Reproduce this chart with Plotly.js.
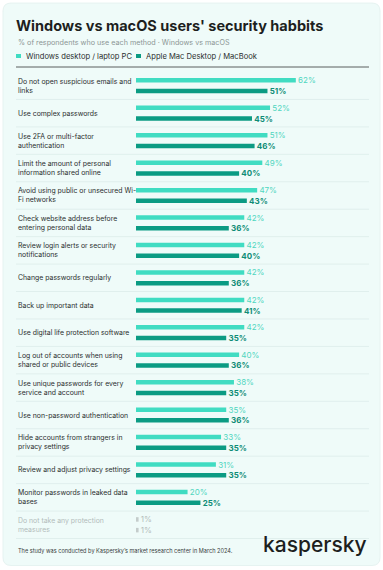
<!DOCTYPE html>
<html>
<head>
<meta charset="utf-8">
<script src="https://cdn.plot.ly/plotly-3.0.1.min.js"></script>
<style>
html,body{margin:0;padding:0;background:#ffffff;}
#chart{width:383px;height:570px;}
</style>
</head>
<body>
<div id="chart"></div>
<script>
// ---- data ----
var categories = [
  "Do not open suspicious emails and<br>links",
  "Use complex passwords",
  "Use 2FA or multi-factor<br>authentication",
  "Limit the amount of personal<br>information shared online",
  "Avoid using public or unsecured Wi-<br>Fi networks",
  "Check website address before<br>entering personal data",
  "Review login alerts or security<br>notifications",
  "Change passwords regularly",
  "Back up important data",
  "Use digital life protection software",
  "Log out of accounts when using<br>shared or public devices",
  "Use unique passwords for every<br>service and account",
  "Use non-password authentication",
  "Hide accounts from strangers in<br>privacy settings",
  "Review and adjust privacy settings",
  "Monitor passwords in leaked data<br>bases",
  "Do not take any protection<br>measures"
];
var windowsValues = [62, 52, 51, 49, 47, 42, 42, 42, 42, 42, 40, 38, 35, 33, 31, 20, 1];
var macValues     = [51, 45, 46, 40, 43, 36, 40, 36, 41, 35, 36, 35, 36, 35, 35, 25, 1];
var seriesNames = ["Windows desktop / laptop PC", "Apple Mac Desktop / MacBook"];
var chartTitle = "Windows vs macOS users' security habbits";
var chartSubtitle = "% of respondents who use each method \u00b7 Windows vs macOS";
var footnote = "The study was conducted by Kaspersky\u2019s market research center in March 2024.";
var brand = "kaspersky";
var noneCategory = "Do not take any protection<br>measures";

// ---- styling ----
var W = 383, H = 570;
var M = {l: 136, r: 15, t: 72, b: 30.5};
var PW = W - M.l - M.r, PH = H - M.t - M.b;
function px2x(p){ return (p - M.l) / PW; }
function py2y(p){ return (H - M.b - p) / PH; }

var FONT = "Inter, 'Open Sans', sans-serif";
var cWin = "#40dcc2", cMac = "#0b9b83", cWinTxt = "#4fd6bf", cMacTxt = "#0e8c76";
var cGray = "#c4cccb", cGrayTxt = "#b3bcbb";

function isNone(c){ return c === noneCategory; }

var winColors = categories.map(function(c){ return isNone(c) ? cGray : cWin; });
var macColors = categories.map(function(c){ return isNone(c) ? cGray : cMac; });
var winTxtColors = categories.map(function(c){ return isNone(c) ? cGrayTxt : cWinTxt; });
var macTxtColors = categories.map(function(c){ return isNone(c) ? cGrayTxt : cMacTxt; });
var macTemplates = categories.map(function(c){ return isNone(c) ? "\u00a0%{x}%" : "\u00a0<b>%{x}%</b>"; });

var traces = [
  {
    type: "bar", orientation: "h", name: seriesNames[0],
    y: categories, x: windowsValues,
    marker: {color: winColors},
    texttemplate: "\u00a0%{x}%", textposition: "outside", cliponaxis: false,
    constraintext: "none",
    textfont: {family: FONT, size: 8, color: winTxtColors},
    hoverinfo: "skip"
  },
  {
    type: "bar", orientation: "h", name: seriesNames[1],
    y: categories, x: macValues,
    marker: {color: macColors},
    texttemplate: macTemplates, textposition: "outside", cliponaxis: false,
    constraintext: "none",
    textfont: {family: FONT, size: 8, color: macTxtColors},
    hoverinfo: "skip"
  }
];

var shapes = [];
var annotations = [];

// card background (rounded)
(function(){
  var x0 = 3, x1 = 380, y0 = 3, y1 = 566, r = 8;
  var X = px2x, Y = py2y;
  var path = "M" + X(x0 + r) + "," + Y(y0) +
    " L" + X(x1 - r) + "," + Y(y0) +
    " Q" + X(x1) + "," + Y(y0) + " " + X(x1) + "," + Y(y0 + r) +
    " L" + X(x1) + "," + Y(y1 - r) +
    " Q" + X(x1) + "," + Y(y1) + " " + X(x1 - r) + "," + Y(y1) +
    " L" + X(x0 + r) + "," + Y(y1) +
    " Q" + X(x0) + "," + Y(y1) + " " + X(x0) + "," + Y(y1 - r) +
    " L" + X(x0) + "," + Y(y0 + r) +
    " Q" + X(x0) + "," + Y(y0) + " " + X(x0 + r) + "," + Y(y0) + " Z";
  shapes.push({type: "path", xref: "paper", yref: "paper", path: path,
    fillcolor: "#effbf9", line: {color: "#e6f3f1", width: 1}, layer: "below"});
})();

// rule under legend
shapes.push({type: "line", xref: "paper", yref: "paper",
  x0: px2x(16), x1: px2x(369), y0: py2y(67), y1: py2y(67),
  line: {color: "#5a5f5f", width: 1}, layer: "below"});

// faint row separators
for (var i = 0; i < categories.length; i++) {
  shapes.push({type: "line", xref: "paper", yref: "y",
    x0: px2x(16), x1: px2x(369), y0: i + 0.5, y1: i + 0.5,
    line: {color: "#e0efed", width: 1}, layer: "below"});
}

// category labels (left aligned)
categories.forEach(function(c){
  annotations.push({xref: "paper", yref: "y", x: px2x(16), y: c,
    xanchor: "left", yanchor: "middle", align: "left", showarrow: false,
    text: c, font: {family: FONT, size: 6.9, color: isNone(c) ? cGrayTxt : "#2b2f2f"}});
});

// subtitle
annotations.push({xref: "paper", yref: "paper", x: px2x(16), y: py2y(42),
  xanchor: "left", yanchor: "middle", showarrow: false, text: chartSubtitle,
  font: {family: FONT, size: 7.2, color: "#8c9695"}});

// legend (custom)
var legendItems = [{x: 16, color: cWin, name: seriesNames[0]}, {x: 136, color: cMac, name: seriesNames[1]}];
legendItems.forEach(function(it){
  shapes.push({type: "rect", xref: "paper", yref: "paper",
    x0: px2x(it.x), x1: px2x(it.x + 5), y0: py2y(58), y1: py2y(54),
    fillcolor: it.color, line: {width: 0}});
  annotations.push({xref: "paper", yref: "paper", x: px2x(it.x + 8), y: py2y(56),
    xanchor: "left", yanchor: "middle", showarrow: false, text: it.name,
    font: {family: FONT, size: 7.6, color: "#2b2f2f"}});
});

// footnote + brand
annotations.push({xref: "paper", yref: "paper", x: px2x(16), y: py2y(552),
  xanchor: "left", yanchor: "middle", showarrow: false, text: footnote,
  font: {family: FONT, size: 5.6, color: "#3a3f3f"}});
annotations.push({xref: "paper", yref: "paper", x: px2x(369), y: py2y(545),
  xanchor: "right", yanchor: "middle", showarrow: false, text: brand,
  font: {family: FONT, size: 21, color: "#1d1f1e", weight: 500}});

var layout = {
  width: W, height: H,
  margin: M,
  paper_bgcolor: "#ffffff", plot_bgcolor: "rgba(0,0,0,0)",
  barmode: "group", bargap: 0.22, bargroupgap: 0.58,
  showlegend: false,
  title: {text: "<b>" + chartTitle + "</b>", xref: "container", yref: "container",
    x: 16 / W, xanchor: "left", y: 1 - 25.5 / H, yanchor: "middle",
    font: {family: FONT, size: 14.5, color: "#1d1f1e"}},
  xaxis: {range: [0, 90], visible: false, fixedrange: true},
  yaxis: {type: "category", autorange: "reversed", showticklabels: false,
    showgrid: false, zeroline: false, showline: false, ticks: "", fixedrange: true},
  shapes: shapes,
  annotations: annotations,
  font: {family: FONT}
};

Plotly.newPlot("chart", traces, layout, {displayModeBar: false, staticPlot: true});
</script>
</body>
</html>
